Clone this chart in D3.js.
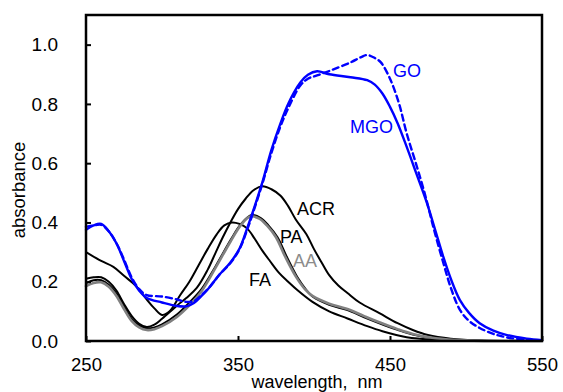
<!DOCTYPE html>
<html lang="en">
<head>
	<meta charset="UTF-8">
	<title>Absorbance spectra</title>
	<style>
		body {
			margin: 0;
			background: #fff;
			overflow: hidden;
		}

		text {
			font-family: "Liberation Sans", Arial, sans-serif;
		}

		.spec {
			fill: none;
			stroke-linejoin: round;
			stroke-linecap: round;
		}
	</style>
	<script src="https://d3js.org/d3.v7.min.js"></script>
</head>
<body>
	<script>
		// spectra, [wavelength nm, absorbance]
		const FA = [[250, 0.30], [260, 0.27], [268, 0.25], [275, 0.22], [283, 0.185], [290, 0.14], [295, 0.11], [300, 0.088],
			[305, 0.10], [312, 0.155], [318, 0.20], [324, 0.255], [330, 0.31], [336, 0.36], [341, 0.39], [346, 0.40], [351, 0.395],
			[356, 0.38], [361, 0.345], [366, 0.305], [371, 0.27], [377, 0.23], [383, 0.20], [389, 0.172], [399, 0.132],
			[410, 0.10], [422, 0.076], [435, 0.05], [445, 0.033], [461, 0.013], [480, 0.004], [500, 0.001], [550, 0]];

		const ACR = [[250, 0.21], [255, 0.215], [260, 0.215], [265, 0.20], [270, 0.17], [275, 0.125], [280, 0.085], [285, 0.058],
			[290, 0.047], [295, 0.055], [300, 0.075], [310, 0.12], [316, 0.145], [323, 0.18], [330, 0.24], [335, 0.295],
			[340, 0.35], [345, 0.40], [350, 0.445], [355, 0.48], [360, 0.508], [366, 0.522], [372, 0.512], [378, 0.49],
			[383, 0.455], [388, 0.41], [395, 0.36], [400, 0.31], [405, 0.265], [410, 0.222], [416, 0.187], [422, 0.162],
			[430, 0.13], [443, 0.094], [455, 0.06], [465, 0.037], [475, 0.02], [490, 0.008], [510, 0.002], [550, 0]];

		const PA = [[250, 0.195], [255, 0.205], [260, 0.205], [265, 0.19], [270, 0.16], [275, 0.115], [280, 0.075], [285, 0.052],
			[290, 0.043], [295, 0.046], [300, 0.056], [310, 0.09], [318, 0.13], [326, 0.175], [335, 0.25], [345, 0.34],
			[352, 0.395], [359, 0.425], [365, 0.415], [370, 0.39], [376, 0.35], [382, 0.285], [389, 0.216], [395, 0.172],
			[399, 0.15], [410, 0.122], [422, 0.104], [433, 0.08], [443, 0.06], [455, 0.038], [465, 0.022], [480, 0.008],
			[500, 0.002], [550, 0]];

		const AA = [[250, 0.185], [255, 0.196], [260, 0.198], [265, 0.183], [270, 0.152], [275, 0.108], [280, 0.068], [285, 0.046],
			[290, 0.037], [295, 0.04], [300, 0.05], [310, 0.082], [318, 0.12], [326, 0.168], [335, 0.245], [345, 0.335],
			[352, 0.392], [358, 0.42], [364, 0.413], [369, 0.39], [375, 0.35], [381, 0.285], [388, 0.218], [394, 0.175],
			[399, 0.152], [410, 0.126], [422, 0.108], [433, 0.084], [443, 0.063], [455, 0.04], [465, 0.024], [480, 0.009],
			[500, 0.002], [550, 0]];

		const GO = [[250, 0.385], [255, 0.39], [260, 0.392], [265, 0.37], [270, 0.33], [275, 0.275], [280, 0.215], [285, 0.175],
			[290, 0.155], [300, 0.15], [310, 0.14], [316, 0.132], [321, 0.135], [326, 0.155], [331, 0.18], [338, 0.225],
			[345, 0.263], [351, 0.31], [356, 0.375], [361, 0.45], [366, 0.53], [372, 0.635], [378, 0.725], [383, 0.785],
			[391, 0.862], [396, 0.885], [402, 0.896], [412, 0.915], [424, 0.94], [431, 0.958], [435, 0.965], [440, 0.955],
			[444, 0.94], [450, 0.885], [456, 0.80], [461, 0.70], [467, 0.60], [473, 0.495], [479, 0.375], [485, 0.265],
			[490, 0.18], [496, 0.105], [502, 0.068], [509, 0.044], [518, 0.024], [527, 0.012], [540, 0.004], [550, 0.002]];

		const MGO = [[250, 0.375], [255, 0.39], [260, 0.395], [265, 0.37], [270, 0.33], [275, 0.27], [280, 0.21], [285, 0.17],
			[290, 0.145], [300, 0.13], [310, 0.118], [316, 0.117], [321, 0.128], [326, 0.152], [331, 0.18], [338, 0.225],
			[345, 0.265], [351, 0.312], [356, 0.38], [361, 0.455], [366, 0.535], [372, 0.645], [378, 0.735], [383, 0.80],
			[391, 0.872], [396, 0.898], [402, 0.91], [410, 0.90], [424, 0.89], [435, 0.88], [440, 0.865], [445, 0.835],
			[450, 0.79], [455, 0.735], [461, 0.655], [467, 0.57], [474, 0.47], [480, 0.37], [485, 0.285], [490, 0.21],
			[496, 0.138], [502, 0.095], [509, 0.06], [518, 0.035], [527, 0.02], [540, 0.008], [550, 0.003]];

		const xTicks = [250, 350, 450, 550];
		const yTicks = [0, 0.2, 0.4, 0.6, 0.8, 1.0];

		// label name, wavelength, absorbance of the text's baseline start
		const labelNames = ["GO", "MGO", "ACR", "PA", "AA", "FA"];
		const labelX = [452, 423.7, 388.8, 377.6, 386.2, 357.2];
		const labelY = [0.891, 0.702, 0.425, 0.331, 0.25, 0.186];

		const W = 563, H = 392;
		const m = { left: 86, right: 542, top: 15, bottom: 341 };

		const blue = "#0000ff";
		const labelColors = [blue, blue, "#000", "#000", "#8c8c8c", "#000"];

		const x = d3.scaleLinear().domain([250, 550]).range([m.left, m.right]);
		const y = d3.scaleLinear().domain([0, 1.1]).range([m.bottom, m.top]);

		const svg = d3.select("body")
			.append("svg")
			.attr("width", W)
			.attr("height", H);

		const line = d3.line()
			.x(d => x(d[0]))
			.y(d => y(d[1]))
			.curve(d3.curveCatmullRom.alpha(0.5));

		// draw order: blacks, gray, then blue on top
		const series = [
			{ data: FA, color: "#000", width: 2 },
			{ data: ACR, color: "#000", width: 2 },
			{ data: PA, color: "#000", width: 2 },
			{ data: AA, color: "#808080", width: 2.6 },
			{ data: GO, color: blue, width: 2.4, dash: "6,4" },
			{ data: MGO, color: blue, width: 2.4 }
		];

		svg.append("g")
			.selectAll("path")
			.data(series)
			.enter()
			.append("path")
			.attr("class", "spec")
			.attr("d", d => line(d.data))
			.attr("stroke", d => d.color)
			.attr("stroke-width", d => d.width)
			.attr("stroke-dasharray", d => d.dash || null)
			.attr("stroke-linecap", d => d.dash ? "butt" : "round");

		// frame
		svg.append("rect")
			.attr("x", m.left)
			.attr("y", m.top)
			.attr("width", m.right - m.left)
			.attr("height", m.bottom - m.top)
			.attr("fill", "none")
			.attr("stroke", "#000")
			.attr("stroke-width", 2.5);

		// axes, ticks inside
		const xAxis = d3.axisBottom(x).tickValues(xTicks).tickSizeInner(-5).tickSizeOuter(0).tickPadding(17);
		const yAxis = d3.axisLeft(y).tickValues(yTicks).tickSizeInner(-5).tickSizeOuter(0).tickPadding(28)
			.tickFormat(d3.format(".1f"));

		const gx = svg.append("g")
			.attr("transform", `translate(0,${m.bottom})`)
			.call(xAxis);

		const gy = svg.append("g")
			.attr("transform", `translate(${m.left},0)`)
			.call(yAxis);

		[gx, gy].forEach(g => {
			g.select(".domain").remove();
			g.selectAll(".tick line").attr("stroke", "#000").attr("stroke-width", 2);
			g.selectAll(".tick text")
				.attr("fill", "#000")
				.style("font-size", "19px")
				.style("font-family", "'Liberation Sans', Arial, sans-serif");
		});

		// x tick labels sit a little below
		gx.selectAll(".tick text").attr("dy", "0.71em").style("font-size", "18.5px");

		// axis titles
		svg.append("text")
			.attr("x", 317)
			.attr("y", 388)
			.attr("text-anchor", "middle")
			.style("font-size", "18px")
			.attr("xml:space", "preserve")
			.text("wavelength,  nm");

		svg.append("text")
			.attr("transform", "translate(25,190) rotate(-90)")
			.attr("text-anchor", "middle")
			.style("font-size", "18.5px")
			.text("absorbance");

		// series labels
		svg.append("g")
			.selectAll("text")
			.data(labelNames)
			.enter()
			.append("text")
			.attr("x", (d, i) => x(labelX[i]))
			.attr("y", (d, i) => y(labelY[i]))
			.attr("fill", (d, i) => labelColors[i])
			.style("font-size", "18px")
			.text(d => d);
	</script>
</body>
</html>
